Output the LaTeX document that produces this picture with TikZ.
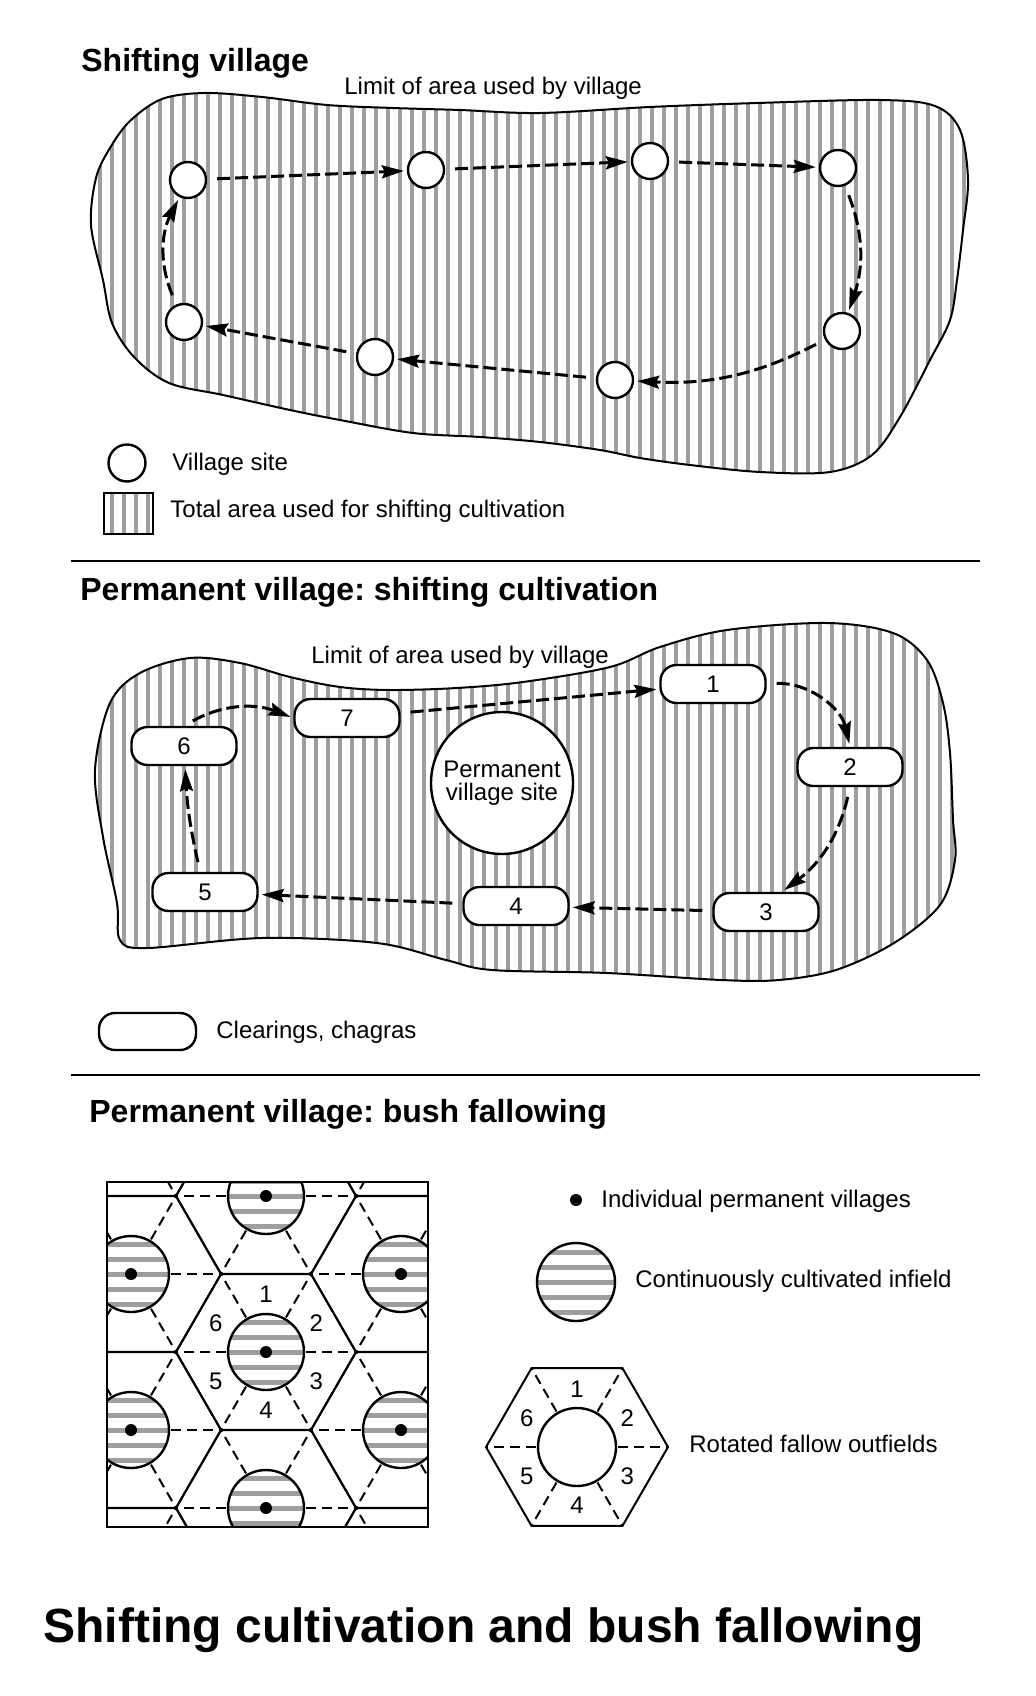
\documentclass[tikz,border=0pt]{standalone}
\usepackage{fontspec}
\setmainfont{Liberation Sans}
\usetikzlibrary{arrows.meta}

\begin{document}
\frenchspacing
\begin{tikzpicture}[x=0.5pt,y=-0.5pt,>={Stealth[length=11pt,width=6.5pt,inset=1.5pt]},
    heading/.style={anchor=base west,inner sep=0,font=\bfseries\fontsize{16}{19}\selectfont},
    txt/.style={anchor=base west,inner sep=0,font=\fontsize{12}{14}\selectfont},
    num/.style={inner sep=0,font=\fontsize{12}{14}\selectfont},
    hatch/.style={line width=2pt,black!38},
    area/.style={line width=1pt,fill=white,path picture={
        \foreach \hx in {40,52,...,1000} \draw[hatch] (\hx,0) -- (\hx,1696);}},
    stripe/.style={line width=2.5pt,black!38},
    infield/.style={draw,line width=1.2pt,fill=white,path picture={
        \foreach \k in {-2,...,2} \draw[stripe] ([yshift=\k*7.5pt]path picture bounding box.west) -- ([yshift=\k*7.5pt]path picture bounding box.east);}},
    village/.style={circle,draw,line width=1.2pt,fill=white,minimum size=18pt,inner sep=0},
    clearing/.style={draw,line width=1.2pt,fill=white,rounded corners=8pt,minimum width=52.5pt,minimum height=19pt,inner sep=0,font=\fontsize{12}{14}\selectfont},
    site/.style={circle,draw,line width=1.2pt,fill=white,minimum size=71pt,inner sep=0,align=center,font=\fontsize{12}{11.5}\selectfont},
    trail/.style={->,line width=1.5pt,dash pattern=on 6.5pt off 2.5pt,shorten <=5pt,shorten >=1.5pt},
    divider/.style={line width=1.3pt},
    hexline/.style={line width=1pt},
    sector/.style={line width=1pt,dash pattern=on 5pt off 3pt},
    dot/.style={circle,fill,minimum size=6pt,inner sep=0}]
  \useasboundingbox (0,0) rectangle (1036,1696);

  % shifting village
  \node[heading] (t1) at (81,72) {Shifting village};
  \node[txt] (lim1) at (344,95) {Limit of area used by village};
  \draw[area] plot[smooth cycle,tension=0.55] coordinates {(91,225) (96,178) (110,148) (130,121) (162,99) (205,93)
    (262,97) (327,105) (393,108) (460,110) (540,113) (650,107) (757,103) (880,100) (935,106) (960,130) (968,180)
    (963,230) (957,280) (950,320) (930,360) (900,417) (872,455) (830,472) (760,472) (690,465) (640,458) (600,450)
    (540,442) (480,437) (413,433) (340,420) (290,410) (223,395) (169,383) (134,357) (112,323) (103,280)};

  \node[village] (v1) at (188,180) {};
  \node[village] (v2) at (426,170) {};
  \node[village] (v3) at (650,161) {};
  \node[village] (v4) at (838,168) {};
  \node[village] (v5) at (842,331) {};
  \node[village] (v6) at (615,380) {};
  \node[village] (v7) at (375,357) {};
  \node[village] (v8) at (184,322) {};

  \draw[trail] (v1) -- (v2);
  \draw[trail] (v2) -- (v3);
  \draw[trail] (v3) -- (v4);
  \draw[trail] (v4) to[bend left=20] (v5);
  \draw[trail] (v5) to[bend left=15] (v6);
  \draw[trail] (v6) -- (v7);
  \draw[trail] (v7) -- (v8);
  \draw[trail] (v8) to[bend left=25] (v1);

  % key
  \node[village,minimum size=18.5pt] (keyv) at (127,463) {};
  \node[txt] (keyvt) at (172,470) {Village site};
  \draw[area] (104,493) rectangle (153,534);
  \node[txt] (keyat) at (170,517) {Total area used for shifting cultivation};

  \draw[divider] (71,561) -- (980,561);

  % permanent village, shifting cultivation
  \node[heading] (t2) at (80,600) {Permanent village: shifting cultivation};
  \node[txt] (lim2) at (311,663) {Limit of area used by village};
  \draw[area] plot[smooth cycle,tension=0.55] coordinates {(95,770) (110,703) (140,673) (190,658) (240,663) (290,677)
    (340,687) (390,690) (457,688) (523,682) (610,667) (660,647) (727,630) (827,623) (893,633) (927,660) (943,703)
    (950,753) (953,820) (955,860) (940,905) (894,943) (836,970) (779,980) (721,980) (607,973) (492,970) (446,960)
    (377,943) (262,938) (147,948) (120,940) (117,903) (103,837)};

  \node[site] (pv) at (502,783) {Permanent\\village site};

  \node[clearing] (c1) at (713,684) {1};
  \node[clearing] (c2) at (850,767) {2};
  \node[clearing] (c3) at (766,912) {3};
  \node[clearing] (c4) at (516,906) {4};
  \node[clearing] (c5) at (205,892) {5};
  \node[clearing] (c6) at (184,746) {6};
  \node[clearing] (c7) at (347,718) {7};

  \draw[trail] (c7) -- (c1);
  \draw[trail] (c1.east) to[bend left=40] (c2.north);
  \draw[trail] (c2.south) to[bend left=20] ([xshift=8pt]c3.north);
  \draw[trail] (c3) -- (c4);
  \draw[trail] (c4) -- (c5);
  \draw[trail] (c5) to[bend left=5] (c6);
  \draw[trail] (c6.north) to[bend left=25] (c7.west);

  % key
  \node[clearing,minimum width=48.5pt,minimum height=18.5pt] (keyc) at (147.5,1031.5) {};
  \node[txt] (keyct) at (216,1038) {Clearings, chagras};

  \draw[divider] (71,1075) -- (980,1075);

  % permanent village, bush fallowing
  \node[heading] (t3) at (89,1122) {Permanent village: bush fallowing};

  \begin{scope}
    \clip (107,1182) rectangle (428,1527);
    \foreach \px/\py in {266/1196,266/1352,266/1508,131/1118,131/1274,131/1430,131/1586,401/1118,401/1274,401/1430,401/1586} {
      \draw[hexline] (\px,\py) +(0:90) -- +(60:90) -- +(120:90) -- +(180:90) -- +(240:90) -- +(300:90) -- cycle;
      \foreach \a in {0,60,...,300} \draw[sector] (\px,\py) ++(\a:40) -- ++(\a:50);
    }
    \foreach \px/\py in {266/1196,266/1352,266/1508,131/1274,131/1430,401/1274,401/1430} {
      \draw[infield] (\px,\py) circle (38);
      \fill (\px,\py) circle (6);
    }
  \end{scope}
  \draw[hexline] (107,1182) rectangle (428,1527);
  \foreach \n/\a in {1/-90,2/-30,3/30,4/90,5/150,6/210}
    \path (266,1352) ++(\a:58) node[num] (g\n) {\n};

  % key
  \node[dot] (keyd) at (576,1200) {};
  \node[txt] (keydt) at (601,1207) {Individual permanent villages};
  \draw[infield] (576,1282) circle (39);
  \node[txt] (keyit) at (635,1287) {Continuously cultivated infield};

  \draw[hexline] (577,1447) +(0:91) -- +(60:91) -- +(120:91) -- +(180:91) -- +(240:91) -- +(300:91) -- cycle;
  \foreach \a in {0,60,...,300} \draw[sector] (577,1447) ++(\a:41) -- ++(\a:50);
  \draw[hexline,line width=1.2pt] (577,1447) circle (39);
  \foreach \n/\a in {1/-90,2/-30,3/30,4/90,5/150,6/210}
    \path (577,1447) ++(\a:58) node[num] (h\n) {\n};
  \node[txt] (keyht) at (689,1452) {Rotated fallow outfields};

  \node[heading,font=\bfseries\fontsize{24}{28}\selectfont] (t0) at (43,1642) {Shifting cultivation and bush fallowing};
\end{tikzpicture}
\end{document}
